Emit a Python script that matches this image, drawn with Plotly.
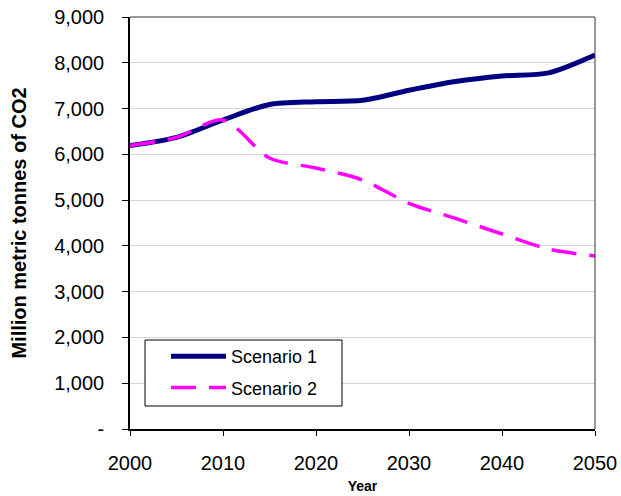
import plotly.graph_objects as go

# Projected emissions, million metric tonnes of CO2, five-year steps
years = [2000, 2005, 2010, 2015, 2020, 2025, 2030, 2035, 2040, 2045, 2050]
scenario_1 = [6190, 6370, 6750, 7090, 7150, 7180, 7400, 7590, 7710, 7780, 8170]
scenario_2 = [6190, 6370, 6750, 5920, 5700, 5440, 4930, 4600, 4260, 3930, 3780]

y_ticks = [0, 1000, 2000, 3000, 4000, 5000, 6000, 7000, 8000, 9000]
y_tick_labels = ["-", "1,000", "2,000", "3,000", "4,000", "5,000",
                 "6,000", "7,000", "8,000", "9,000"]
x_ticks = [2000, 2010, 2020, 2030, 2040, 2050]

font_family = "Liberation Sans, Arial, sans-serif"

fig = go.Figure()
fig.add_trace(go.Scatter(
    x=years, y=scenario_1, name="Scenario 1", mode="lines", legendgroup="s1",
    line=dict(color="#000080", width=5, shape="spline", smoothing=0.8),
))
fig.add_trace(go.Scatter(
    x=years, y=scenario_2, name="Scenario 2", mode="lines", legendgroup="s2",
    line=dict(color="#FF00FF", width=3.5, shape="spline", smoothing=0.8,
              dash="25px,13px"),
))

fig.update_layout(
    width=621, height=496,
    margin=dict(l=130, r=26, t=17, b=67),
    paper_bgcolor="white", plot_bgcolor="white",
    font=dict(family=font_family, size=20, color="black"),
    showlegend=True,
    legend=dict(
        x=0.0774, y=0.2209, xanchor="left", yanchor="top",
        bgcolor="rgba(0,0,0,0)", borderwidth=0,
        font=dict(size=18),
        tracegroupgap=5, itemwidth=55,
    ),
    xaxis=dict(
        range=[2000, 2050], tickvals=x_ticks, automargin=False,
        showline=True, linecolor="black", linewidth=2, mirror=False,
        ticks="outside", ticklen=5, tickcolor="black", tickwidth=1,
        ticklabelstandoff=10,
        showgrid=False, zeroline=False,
        title=dict(text="<b>Year</b>", font=dict(size=14), standoff=8),
    ),
    yaxis=dict(
        range=[0, 9000], tickvals=y_ticks, ticktext=y_tick_labels,
        automargin=False,
        showline=True, linecolor="black", linewidth=1.5,
        ticks="outside", ticklen=6, tickcolor="black", tickwidth=1,
        ticklabelstandoff=14,
        showgrid=True, gridcolor="#d4d4d4", gridwidth=1, zeroline=False,
        title=dict(text="<b>Million metric tonnes of CO2</b>",
                   font=dict(size=20), standoff=22),
    ),
)

# Thin frame on the top and right of the plot area
fig.add_shape(type="line", xref="paper", yref="paper", x0=0, x1=1, y0=1, y1=1,
              line=dict(color="#333333", width=1))
fig.add_shape(type="line", xref="paper", yref="paper", x0=1, x1=1, y0=0, y1=1,
              line=dict(color="#333333", width=1))

# White legend box with a black border behind the legend entries
fig.add_shape(type="rect", xref="paper", yref="paper", layer="above",
              x0=0.0323, x1=0.4559, y0=0.0558, y1=0.216,
              fillcolor="white", line=dict(color="black", width=1))

fig.write_html("out.html")
